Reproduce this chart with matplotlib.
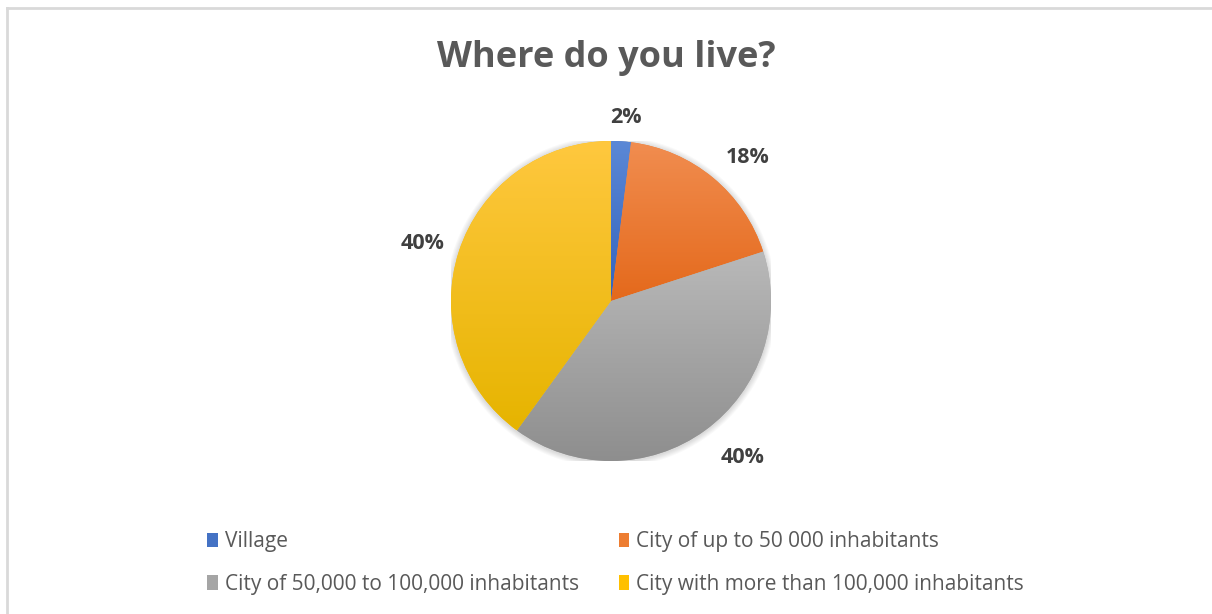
import numpy as np
import matplotlib
matplotlib.use("Agg")
import matplotlib.pyplot as plt
from matplotlib.colors import LinearSegmentedColormap
from matplotlib.patches import Patch
from matplotlib.lines import Line2D

categories = ["Village", "City of up to 50 000 inhabitants",
              "City of 50,000 to 100,000 inhabitants",
              "City with more than 100,000 inhabitants"]
values = [2, 18, 40, 40]
title = "Where do you live?"

base_colors = ["#4472C4", "#ED7D31", "#A5A5A5", "#FFC000"]
top_colors = ["#5B88D6", "#F18D50", "#B9B9B9", "#FFC83F"]
bottom_colors = ["#3363BC", "#E4691B", "#8E8E8E", "#E6B400"]
# label placement (radial distance, angle nudge in degrees)
label_place = [(1.15, -1), (1.24, -4), (1.28, 4), (1.23, 1)]

FONT = ["Open Sans", "DejaVu Sans"]
W, H = 1212, 614
fig = plt.figure(figsize=(W / 100, H / 100), dpi=100)
fig.patch.set_facecolor("white")

# chart border (top and left visible)
fig.add_artist(Line2D([7 / W, 1.0], [1 - 8 / H, 1 - 8 / H], color="#D9D9D9", lw=2, transform=fig.transFigure))
fig.add_artist(Line2D([7 / W, 7 / W], [0, 1 - 8 / H], color="#D9D9D9", lw=2, transform=fig.transFigure))

cx, cy, r = 611, 301, 160
ax = fig.add_axes([(cx - r) / W, (H - cy - r) / H, 2 * r / W, 2 * r / H])
wedges, texts, autotexts = ax.pie(
    values, colors=base_colors, startangle=90, counterclock=False,
    autopct=lambda p: f"{p:.0f}%", pctdistance=1.22,
    wedgeprops=dict(linewidth=0, edgecolor="white"),
    textprops=dict(fontsize=15.5, fontweight="bold", color="#404040", family=FONT))
ax.set_aspect("equal")
ax.axis("off")

for w, t, (d, nudge) in zip(wedges, autotexts, label_place):
    ang = np.deg2rad((w.theta1 + w.theta2) / 2 + nudge)
    t.set_position((d * np.cos(ang), d * np.sin(ang)))
    t.set_ha("center")
    t.set_va("center")

# soft shadow
for k in range(6):
    circ = plt.Circle((0.0, -0.005), 1.0 + 0.006 * (k + 1), color="#000000", alpha=0.025, lw=0, zorder=0)
    ax.add_patch(circ)

grad = np.linspace(0, 1, 256).reshape(-1, 1)
for w, tc, bc in zip(wedges, top_colors, bottom_colors):
    ext = w.get_path().get_extents()
    cmap = LinearSegmentedColormap.from_list("g", [tc, bc])
    im = ax.imshow(grad, cmap=cmap, aspect="auto",
                   extent=[ext.x0, ext.x1, ext.y0, ext.y1], origin="upper", zorder=w.get_zorder() + 0.1)
    im.set_clip_path(w)
ax.set_xlim(-1, 1)
ax.set_ylim(-1, 1)

fig.text(0.5, 1 - 58 / H, title, ha="center", va="center", fontsize=26,
         fontweight="bold", color="#595959", family=FONT)

order = [0, 2, 1, 3]
handles = [Patch(facecolor=base_colors[i], edgecolor="none") for i in order]
labels = [categories[i] for i in order]
leg = fig.legend(handles, labels, ncol=2, loc="center",
                 bbox_to_anchor=(0.508, 1 - 563 / H), frameon=False,
                 prop=dict(family=FONT, size=15), labelcolor="#595959",
                 handlelength=0.5, handleheight=0.7, handletextpad=0.35,
                 columnspacing=1.9, labelspacing=1.02)

fig.savefig("out.png", dpi=100, facecolor="white")
